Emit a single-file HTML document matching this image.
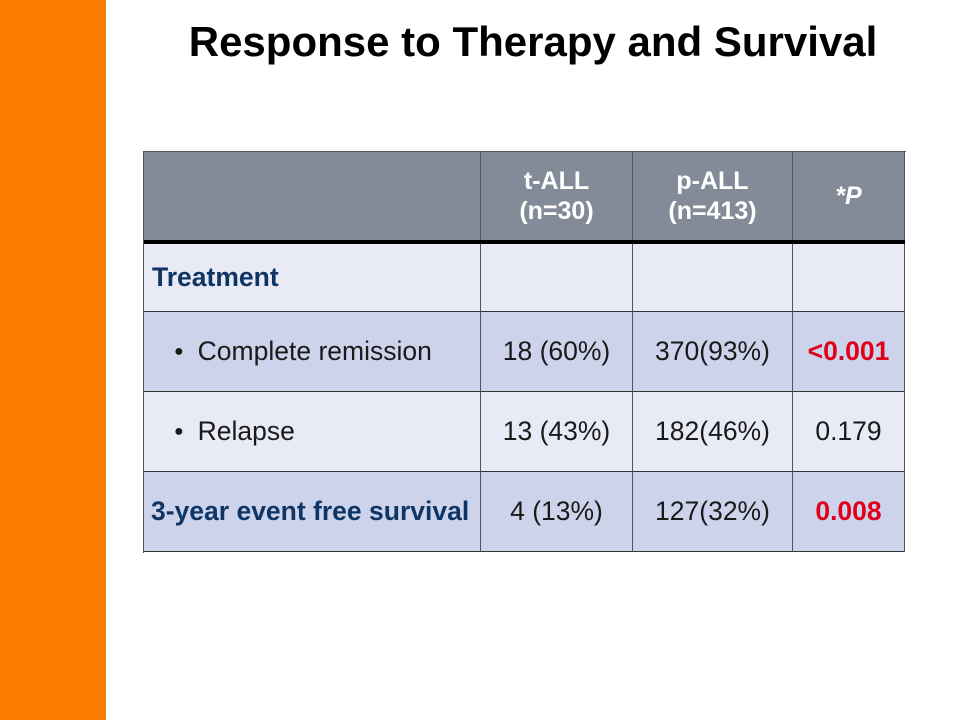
<!DOCTYPE html>
<html><head><meta charset="utf-8"><style>
body{margin:0;width:960px;height:720px;position:relative;background:#fff;font-family:"Liberation Sans",Arial,sans-serif;overflow:hidden}
#bar{position:absolute;left:0;top:0;width:106px;height:720px;background:#fa7d00}
#title{position:absolute;left:106px;width:854px;top:18px;text-align:center;font-weight:bold;font-size:42px;color:#000;white-space:nowrap}
.c{position:absolute;box-sizing:border-box;display:flex;align-items:center;justify-content:center;text-align:center;font-size:26.5px;color:#1a1a1a;border-right:1px solid #555;border-bottom:1px solid #333;white-space:nowrap}
.h{background:#838b99;color:#fff;font-weight:bold;font-size:25px;line-height:30px}
.l{justify-content:flex-start;padding-left:8px;color:#0f3565;font-weight:bold}
.b{justify-content:flex-start;padding-left:30px}
.dot{font-size:16px;margin-right:14px}
.r{color:#e0001b;font-weight:bold}
.a{background:#e8eaf5}.d{background:#cdd3eb}
</style></head><body>
<div id="bar"></div>
<div id="title">Response to Therapy and Survival</div>
<div style="position:absolute;left:143px;top:151px;width:762px;height:401px;border-left:1px solid #555;border-top:1px solid #555">
<div class="c h" style="left:0;top:0;width:337px;height:89px"></div>
<div class="c h" style="left:337px;top:0;width:152px;height:89px">t-ALL<br>(n=30)</div>
<div class="c h" style="left:489px;top:0;width:160px;height:89px">p-ALL<br>(n=413)</div>
<div class="c h" style="left:649px;top:0;width:112px;height:89px"><i>*P</i></div>
<div style="position:absolute;left:0;top:88px;width:761px;height:4px;background:#000"></div>
<div class="c a l" style="left:0;top:92px;width:337px;height:68px">Treatment</div>
<div class="c a" style="left:337px;top:92px;width:152px;height:68px"></div>
<div class="c a" style="left:489px;top:92px;width:160px;height:68px"></div>
<div class="c a" style="left:649px;top:92px;width:112px;height:68px"></div>
<div class="c d b" style="left:0;top:160px;width:337px;height:80px"><span class="dot">●</span>Complete remission</div>
<div class="c d" style="left:337px;top:160px;width:152px;height:80px">18 (60%)</div>
<div class="c d" style="left:489px;top:160px;width:160px;height:80px">370(93%)</div>
<div class="c d r" style="left:649px;top:160px;width:112px;height:80px">&lt;0.001</div>
<div class="c a b" style="left:0;top:240px;width:337px;height:80px"><span class="dot">●</span>Relapse</div>
<div class="c a" style="left:337px;top:240px;width:152px;height:80px">13 (43%)</div>
<div class="c a" style="left:489px;top:240px;width:160px;height:80px">182(46%)</div>
<div class="c a" style="left:649px;top:240px;width:112px;height:80px">0.179</div>
<div class="c d l" style="left:0;top:320px;width:337px;height:80px;padding-left:7px">3-year event free survival</div>
<div class="c d" style="left:337px;top:320px;width:152px;height:80px">4 (13%)</div>
<div class="c d" style="left:489px;top:320px;width:160px;height:80px">127(32%)</div>
<div class="c d r" style="left:649px;top:320px;width:112px;height:80px">0.008</div>
</div>
</body></html>
